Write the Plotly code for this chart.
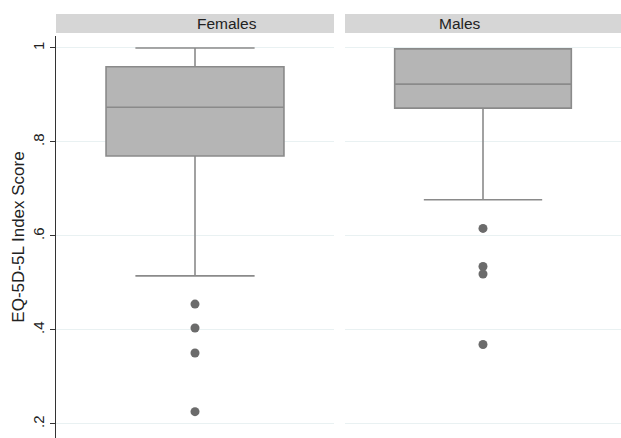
import plotly.graph_objects as go
from plotly.subplots import make_subplots

groups = ["Females", "Males"]
q1 = [0.770, 0.872]
median = [0.874, 0.923]
q3 = [0.960, 0.998]
lower_fence = [0.515, 0.677]
upper_fence = [1.0, 0.998]
outliers = [
    [0.455, 0.404, 0.351, 0.226],
    [0.616, 0.535, 0.519, 0.369],
]
y_ticks = [0.2, 0.4, 0.6, 0.8, 1.0]
y_tick_text = [".2", ".4", ".6", ".8", "1"]

W, H = 621, 438
ml, mr, mt, mb = 56, 0, 36, 0
pw = W - ml - mr
left_end = (334 - ml) / pw
right_start = (345 - ml) / pw

fig = make_subplots(rows=1, cols=2, shared_yaxes=True, horizontal_spacing=0.02)

BOX_FILL = "#b5b5b5"
BOX_LINE = "#8a8a8a"
DOT = "#6b6b6b"

for i, g in enumerate(groups):
    fig.add_trace(go.Box(
        x=[0], q1=[q1[i]], median=[median[i]], q3=[q3[i]],
        lowerfence=[lower_fence[i]], upperfence=[upper_fence[i]],
        width=0.64, whiskerwidth=0.67, boxpoints=False,
        fillcolor=BOX_FILL, line=dict(color=BOX_LINE, width=1.6),
        hoverinfo="skip", showlegend=False, name=g,
    ), row=1, col=i + 1)
    fig.add_trace(go.Scatter(
        x=[0] * len(outliers[i]), y=outliers[i], mode="markers",
        marker=dict(color=DOT, size=9), hoverinfo="skip", showlegend=False,
    ), row=1, col=i + 1)

strip_y0 = (H - 33 - mb) / (H - mt - mb)
strip_y1 = (H - 14 - mb) / (H - mt - mb)

fig.update_layout(
    width=W, height=H,
    margin=dict(l=ml, r=mr, t=mt, b=mb, autoexpand=False),
    paper_bgcolor="white", plot_bgcolor="white",
    font=dict(family="Liberation Sans, Arial, sans-serif", color="#222"),
    xaxis=dict(domain=[0, left_end], range=[-0.5, 0.5], visible=False),
    xaxis2=dict(domain=[right_start, 1], range=[-0.5, 0.5], visible=False),
    yaxis=dict(range=[0.170, 1.0255], tickvals=y_ticks, ticktext=y_tick_text,
               tickangle=-90, ticks="outside", ticklen=5, tickcolor="#333",
               showline=True, linecolor="#333", linewidth=1, automargin=False,
               showgrid=True, gridcolor="#e9f1f2", gridwidth=1, zeroline=False,
               tickfont=dict(size=15, color="#222"),
               title=dict(text="EQ-5D-5L Index Score", font=dict(size=17, color="#222"), standoff=1)),
    yaxis2=dict(range=[0.170, 1.0255], tickvals=y_ticks, showticklabels=False, automargin=False,
                showgrid=True, gridcolor="#e9f1f2", gridwidth=1, zeroline=False, showline=False),
)

for i, g in enumerate(groups):
    x0, x1 = (0, left_end) if i == 0 else (right_start, 1)
    fig.add_shape(type="rect", xref="paper", yref="paper", x0=x0, x1=x1,
                  y0=strip_y0, y1=strip_y1, fillcolor="#d6d6d6", line=dict(width=0),
                  layer="below")
    fig.add_annotation(text=g, xref="paper", yref="paper", x=(x0 + x1) / 2,
                       y=(strip_y0 + strip_y1) / 2, showarrow=False,
                       font=dict(size=15.5, color="#222"), yanchor="middle")

fig.write_html(
    "out.html",
    config={"displayModeBar": False},
    post_script="document.body.style.margin='0';document.body.style.overflow='hidden';",
)
